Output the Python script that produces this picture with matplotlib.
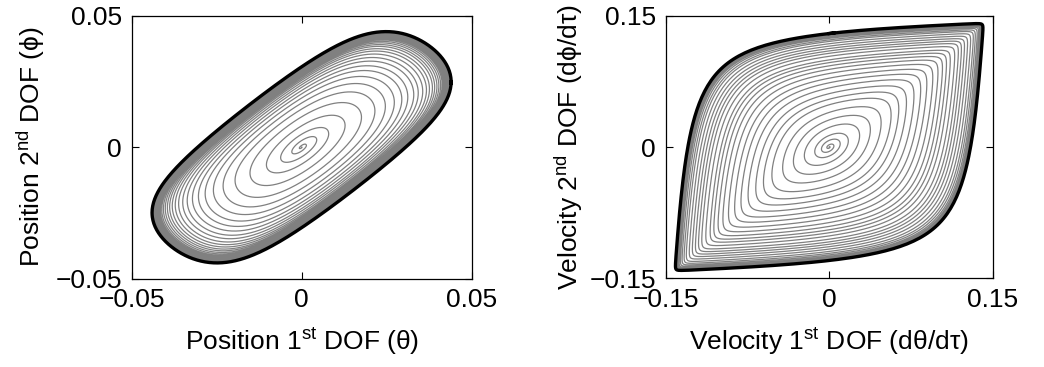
import matplotlib
matplotlib.use("Agg")
import matplotlib.pyplot as plt
import numpy as np

plt.rcParams['font.family'] = ['Liberation Sans', 'DejaVu Sans']
plt.rcParams['mathtext.fontset'] = 'custom'
plt.rcParams['mathtext.rm'] = 'Liberation Sans'
plt.rcParams['mathtext.it'] = 'Liberation Sans:italic'

# relative size of each turn of the spiral, 0 -> limit cycle
pos_turn_amp = [0.0, 0.03, 0.10, 0.18, 0.29, 0.40, 0.49, 0.56, 0.62, 0.67, 0.71,
                0.75, 0.78, 0.81, 0.835, 0.855, 0.875, 0.89, 0.905, 0.918, 0.93,
                0.94, 0.948, 0.956, 0.963, 0.969, 0.974, 0.979, 0.983, 0.986, 0.989,
                0.991, 0.993, 0.995, 0.996, 0.997, 0.998, 0.999, 1.0, 1.0, 1.0]
vel_turn_amp = [0.0, 0.02, 0.06, 0.105, 0.18, 0.25, 0.32, 0.39, 0.44, 0.49, 0.54,
                0.585, 0.625, 0.665, 0.70, 0.73, 0.757, 0.78, 0.81, 0.835, 0.855,
                0.875, 0.895, 0.915, 0.934, 0.947, 0.96, 0.97, 0.978, 0.984, 0.989,
                0.992, 0.995, 0.997, 0.998, 0.999, 1.0, 1.0, 1.0, 1.0, 1.0]

# limit cycle size
pos_max = 0.044
vel_max = 0.141

# waveform shape: saturation gain and phase lag of the 2nd DOF (deg), small -> limit
pos_gain = 1.8
pos_phase = (44.0, 50.0)
vel_gain = 2.3
vel_phase = (65.0, 40.0)

pos_ticks = [-0.05, 0, 0.05]
pos_tick_labels = ['\u22120.05', '0', '0.05']
vel_ticks = [-0.15, 0, 0.15]
vel_tick_labels = ['\u22120.15', '0', '0.15']


def sat(t, k):
    return np.tanh(k * np.sin(t)) / np.tanh(k)


# table of the integrated (position) waveform for a range of gains
_tt = np.linspace(0, 2 * np.pi, 2001)
_kk = np.linspace(1e-3, max(pos_gain, 1e-3), 121)
_g = np.tanh(_kk[:, None] * np.sin(_tt)[None, :])
_F = np.concatenate([np.zeros((len(_kk), 1)),
                     np.cumsum(0.5 * (_g[:, 1:] + _g[:, :-1]) * np.diff(_tt), axis=1)], axis=1)
_F = -(_F - _F.mean(axis=1, keepdims=True))
_F = _F / np.abs(_F).max(axis=1, keepdims=True)


def integ_sat(t, k):
    tm = np.mod(t, 2 * np.pi)
    fi = np.interp(k, _kk, np.arange(len(_kk)))
    i0 = np.clip(np.floor(fi).astype(int), 0, len(_kk) - 2)
    w = fi - i0
    res = np.empty_like(tm)
    for i in np.unique(i0):
        sel = i0 == i
        a0 = np.interp(tm[sel], _tt, _F[i])
        a1 = np.interp(tm[sel], _tt, _F[i + 1])
        res[sel] = a0 * (1 - w[sel]) + a1 * w[sel]
    return res


def trajectory(turn_amp, kind, pts=500):
    n = len(turn_amp) - 1
    s = np.linspace(0, n, n * pts + 1)
    a = np.interp(s, np.arange(n + 1), turn_amp)
    t = 2 * np.pi * s
    if kind == 'pos':
        k = np.maximum(pos_gain * a, 1e-3)
        ph = np.radians(pos_phase[0] + (pos_phase[1] - pos_phase[0]) * a)
        x = pos_max * a * integ_sat(t, k)
        y = pos_max * a * integ_sat(t + ph, k)
    else:
        k = np.maximum(vel_gain * a, 1e-3)
        ph = np.radians(vel_phase[0] + (vel_phase[1] - vel_phase[0]) * a)
        x = vel_max * a * sat(t, k)
        y = vel_max * a * sat(t + ph, k)
    return x, y, s, n


fig = plt.figure(figsize=(10.44, 3.67), dpi=100)
ax1 = fig.add_axes([0.1261, 0.2406, 0.3257, 0.7166])
ax2 = fig.add_axes([0.6376, 0.2417, 0.3133, 0.7155])

for ax, amp, kind in [(ax1, pos_turn_amp, 'pos'), (ax2, vel_turn_amp, 'vel')]:
    x, y, s, n = trajectory(amp, kind)
    # spiral (grey) and the limit cycle it settles on (black)
    ax.plot(x, y, color='#808080', lw=0.9)
    last = s >= n - 1
    lx = np.append(x[last], x[last][1])
    ly = np.append(y[last], y[last][1])
    ax.plot(lx, ly, color='black', lw=2.4, solid_joinstyle='round')

ax1.set_xlim(-0.05, 0.05)
ax1.set_ylim(-0.05, 0.05)
ax1.set_xticks(pos_ticks, pos_tick_labels)
ax1.set_yticks(pos_ticks, pos_tick_labels)
ax1.set_xlabel('Position 1$^{\\rm st}$ DOF (\u03b8)', labelpad=10)
ax1.set_ylabel('Position 2$^{\\rm nd}$ DOF (\u03d5)', labelpad=6)

ax2.set_xlim(-0.15, 0.15)
ax2.set_ylim(-0.15, 0.15)
ax2.set_xticks(vel_ticks, vel_tick_labels)
ax2.set_yticks(vel_ticks, vel_tick_labels)
ax2.set_xlabel('Velocity 1$^{\\rm st}$ DOF (d\u03b8/d\u03c4)', labelpad=10)
ax2.set_ylabel('Velocity 2$^{\\rm nd}$ DOF (d\u03d5/d\u03c4)', labelpad=3)

for ax in (ax1, ax2):
    ax.tick_params(direction='in', length=5, width=0.8, labelsize=19,
                   top=True, right=True, pad=7)
    ax.xaxis.label.set_size(19)
    ax.yaxis.label.set_size(19)
    for sp in ax.spines.values():
        sp.set_linewidth(0.9)

fig.savefig('out.png', dpi=100)
